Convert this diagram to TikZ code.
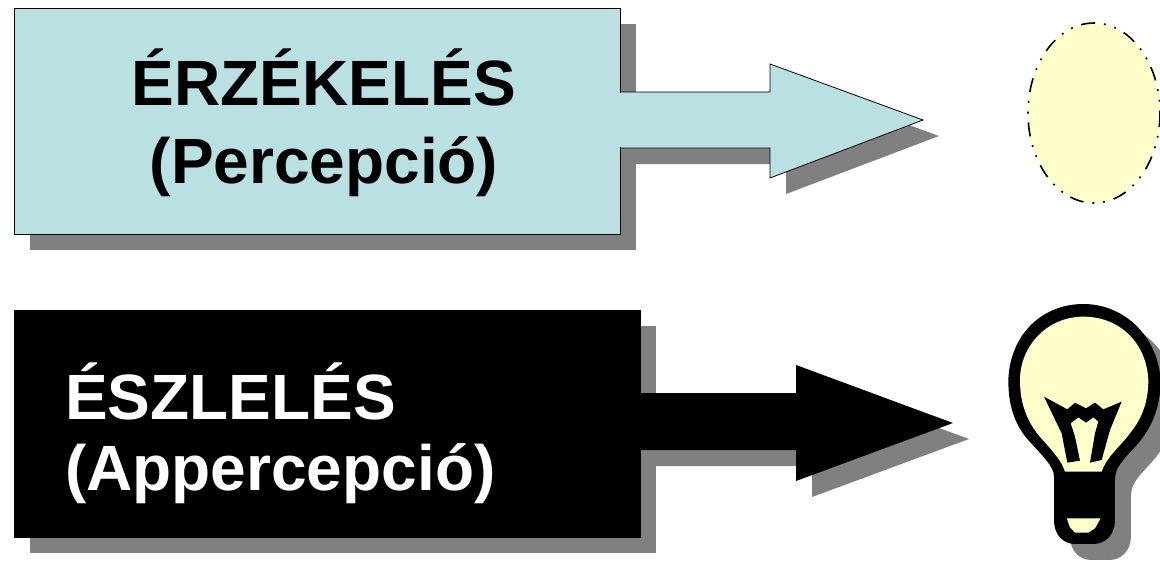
\documentclass[tikz,border=0pt]{standalone}
\usepackage{fontspec}
\setmainfont{Liberation Sans}
\definecolor{boxblue}{HTML}{BBE0E3}
\definecolor{bulbcream}{HTML}{FFFFCC}
\definecolor{shadowgray}{HTML}{808080}
\newcommand{\bulboutline}{
	(222,560) .. controls (222,530) and (190,500) .. (140,445)
	.. controls (100,395) and (85,340) .. (85,270)
	.. controls (90,130) and (190,42) .. (310,42)
	.. controls (440,42) and (540,150) .. (542,280)
	.. controls (540,360) and (510,420) .. (470,465)
	.. controls (430,510) and (405,530) .. (405,570)
	-- (405,690) .. controls (405,735) and (375,762) .. (340,762)
	-- (285,762) .. controls (250,762) and (222,735) .. (222,690) -- cycle
}
\tikzset{
	bigtext/.style={font=\bfseries\fontsize{64}{76}\selectfont,inner sep=0pt},
	lightbox/.style={fill=boxblue,draw=black,line width=0.8pt},
	darkbox/.style={fill=black,draw=black,line width=0.8pt},
	shadowbox/.style={fill=shadowgray},
}
\begin{document}
\begin{tikzpicture}[x=1pt,y=-1pt]
	\path[use as bounding box] (0,0) rectangle (1160,562);

	% upper row
	\fill[shadowbox] (30,24) rectangle (636,250);
	\fill[shadowbox] (636,108) -- (786,108) -- (786,80) -- (939,136) -- (786,194) -- (786,164) -- (636,164) -- cycle;
	\draw[lightbox] (620,92) -- (770,92) -- (770,64) -- (923,120) -- (770,178) -- (770,148) -- (620,148);
	\node[lightbox,minimum width=606pt,minimum height=226pt,inner sep=0pt,anchor=north west] (percbox) at (14,8) {};
	\fill[boxblue] (619,93) rectangle (640,147);
	\node[bigtext,align=center,anchor=center] (perctext) at (324,123) {ÉRZÉKELÉS\\[2pt](Percepció)};

	% lower row
	\fill[shadowbox] (30,326) rectangle (656,553);
	\fill[shadowbox] (656,409) -- (812,409) -- (812,381) -- (969,439) -- (812,497) -- (812,466) -- (656,466) -- cycle;
	\node[darkbox,minimum width=626pt,minimum height=227pt,inner sep=0pt,anchor=north west] (apperbox) at (14,310) {};
	\fill[black] (640,393) -- (796,393) -- (796,365) -- (953,423) -- (796,481) -- (796,450) -- (640,450) -- cycle;
	\node[bigtext,align=left,anchor=west,text=white] (appertext) at (65,433.5) {ÉSZLELÉS\\[-5pt](Appercepció)};

	% oval
	\fill[bulbcream] (1094,113) ellipse (66 and 90);
	\draw[line width=1.6pt,dash pattern=on 14pt off 9pt on 1.8pt off 9pt on 1.8pt off 9pt] (1094,113) ellipse (66 and 90);

	% bulb
	\begin{scope}[shift={(996,306)},x=0.3333pt,y=-0.3333pt]
		\fill[shadowgray] \bulboutline;
	\end{scope}
	\begin{scope}[shift={(980,290)},x=0.3333pt,y=-0.3333pt]
		\fill[black] \bulboutline;
		\fill[bulbcream] (365,545) .. controls (380,500) and (420,470) .. (450,430)
			.. controls (490,380) and (505,330) .. (505,270)
			.. controls (500,160) and (420,80) .. (310,80)
			.. controls (200,80) and (120,170) .. (120,270)
			.. controls (120,340) and (140,390) .. (175,435)
			.. controls (210,475) and (245,510) .. (255,545) -- cycle;
		\fill[black] (192,320) -- (262,358) -- (285,338) -- (318,355) -- (345,338) -- (370,358) -- (425,335)
			-- (390,420) -- (365,510) -- (330,518) -- (345,430) -- (355,395) -- (340,382) -- (318,398)
			-- (295,382) -- (272,400) -- (285,440) -- (300,512) -- (262,518) -- (245,430) -- cycle;
		\fill[bulbcream] (260,685) -- (362,685) -- (345,715) -- (325,728) -- (285,728) -- (270,712) -- cycle;
	\end{scope}
\end{tikzpicture}
\end{document}
